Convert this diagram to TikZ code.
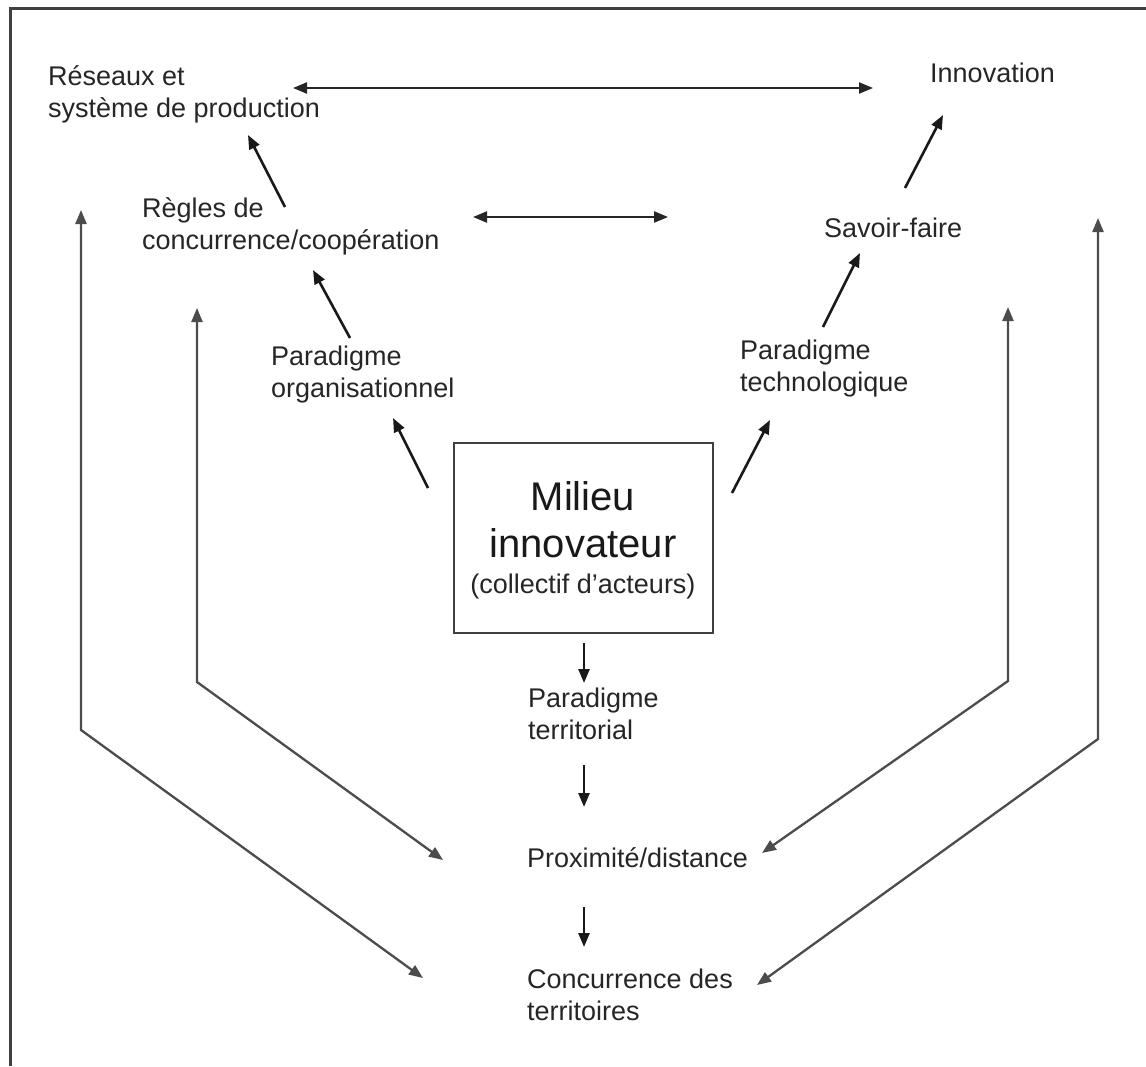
\documentclass[tikz,border=0pt]{standalone}
\usepackage{fontspec}
\setmainfont{Liberation Sans}
\usetikzlibrary{arrows.meta}
\newcommand{\twol}[2]{\begin{tabular}[t]{@{}l@{}}#1\\#2\end{tabular}}
\begin{document}
\begin{tikzpicture}[x=1pt,y=-1pt,
  lbl/.style={anchor=base west, inner sep=0pt, text=black!85, font=\fontsize{27}{32.5}\selectfont},
  big/.style={anchor=base, inner sep=0pt, text=black!90, font=\fontsize{40}{47}\selectfont},
  tip/.tip={Triangle[length=14pt,width=11pt]},
  arr/.style={line width=2.6pt, draw=black!90, -tip},
  darr/.style={line width=2.3pt, draw=black!85, tip-tip},
  loopline/.style={line width=2.3pt, draw=black!70, tip-tip, line join=miter}]
\useasboundingbox (0,0) rectangle (1146,1066);
\fill[white] (0,0) rectangle (1146,1066);
\draw[line width=3pt, black!75] (10,1066) -- (10,8) -- (1146,8);

% text nodes
\node[lbl] (res) at (48,85) {\twol{Réseaux et}{système de production}};
\node[lbl] (inno) at (930,82) {Innovation};
\node[lbl] (regles) at (142,217) {\twol{Règles de}{concurrence/coopération}};
\node[lbl] (savoir) at (824,237) {Savoir-faire};
\node[lbl] (porg) at (271,365) {\twol{Paradigme}{organisationnel}};
\node[lbl] (ptech) at (740,359) {\twol{Paradigme}{technologique}};
\node[lbl] (pterr) at (528,707) {\twol{Paradigme}{territorial}};
\node[lbl] (prox) at (527,867) {Proximité/distance};
\node[lbl] (conc) at (527,988) {\twol{Concurrence des}{territoires}};

% central box
\node[draw=black!75, line width=2.3pt, minimum width=259pt, minimum height=190pt, inner sep=0pt] (milieu) at (583.5,538) {};
\node[big] (m1) at (583,510) {Milieu};
\node[big] (m2) at (583,557) {innovateur};
\node[lbl, anchor=base] (m3) at (583,593) {(collectif d’acteurs)};

% connector end points
\coordinate (a1) at (293,88);   \coordinate (b1) at (873,88);
\coordinate (a2) at (285,207);  \coordinate (b2) at (248,135);
\coordinate (a3) at (473,217);  \coordinate (b3) at (668,217);
\coordinate (a4) at (905,188);  \coordinate (b4) at (943,115);
\coordinate (a5) at (350,338);  \coordinate (b5) at (313,270);
\coordinate (a6) at (823,327);  \coordinate (b6) at (860,253);
\coordinate (a7) at (428,488);  \coordinate (b7) at (393,418);
\coordinate (a8) at (732,493);  \coordinate (b8) at (770,420);
\coordinate (a9) at (584,643);  \coordinate (b9) at (584,683);
\coordinate (a10) at (584,765); \coordinate (b10) at (584,807);
\coordinate (a11) at (584,907); \coordinate (b11) at (584,947);

\draw[darr] (a1) -- (b1);
\draw[arr] (a2) -- (b2);
\draw[darr] (a3) -- (b3);
\draw[arr] (a4) -- (b4);
\draw[arr] (a5) -- (b5);
\draw[arr] (a6) -- (b6);
\draw[arr] (a7) -- (b7);
\draw[arr] (a8) -- (b8);
\draw[arr] (a9) -- (b9);
\draw[arr] (a10) -- (b10);
\draw[arr] (a11) -- (b11);

% outer loops
\coordinate (l1t) at (81,210);   \coordinate (l1b) at (81,730);   \coordinate (l1e) at (423,978);
\coordinate (l2t) at (197,308);  \coordinate (l2b) at (197,682);  \coordinate (l2e) at (443,860);
\coordinate (r1t) at (1008,307); \coordinate (r1b) at (1008,681); \coordinate (r1e) at (762,853);
\coordinate (r2t) at (1098,218); \coordinate (r2b) at (1098,739); \coordinate (r2e) at (757,985);
\draw[loopline] (l1t) -- (l1b) -- (l1e);
\draw[loopline] (l2t) -- (l2b) -- (l2e);
\draw[loopline] (r1t) -- (r1b) -- (r1e);
\draw[loopline] (r2t) -- (r2b) -- (r2e);
\end{tikzpicture}
\end{document}
